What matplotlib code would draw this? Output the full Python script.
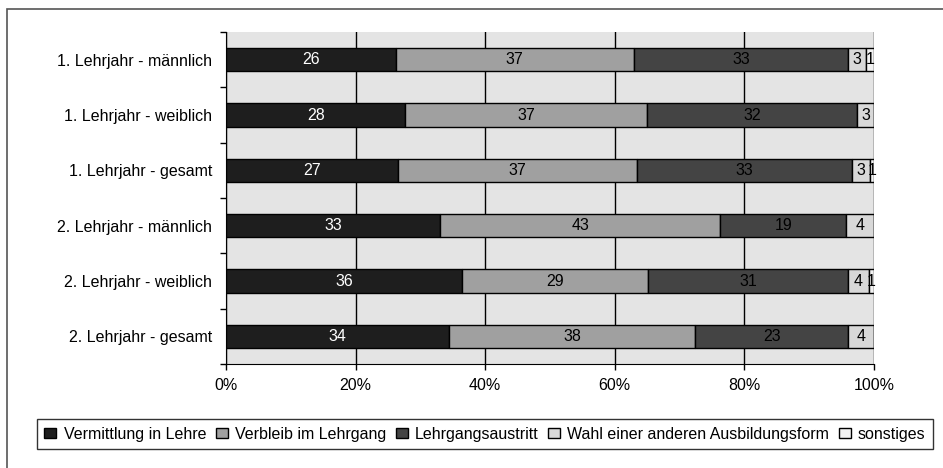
import numpy as np
import matplotlib
matplotlib.use("Agg")
import matplotlib.pyplot as plt
from matplotlib.patches import Rectangle

plt.rcParams["font.family"] = ["Liberation Sans", "DejaVu Sans"]

categories = [
    "1. Lehrjahr - männlich",
    "1. Lehrjahr - weiblich",
    "1. Lehrjahr - gesamt",
    "2. Lehrjahr - männlich",
    "2. Lehrjahr - weiblich",
    "2. Lehrjahr - gesamt",
]
series_names = [
    "Vermittlung in Lehre",
    "Verbleib im Lehrgang",
    "Lehrgangsaustritt",
    "Wahl einer anderen Ausbildungsform",
    "sonstiges",
]
vermittlung = [26.2, 27.7, 26.5, 33.0, 36.4, 34.4]
verbleib = [36.7, 37.2, 37.0, 43.3, 28.8, 38.0]
austritt = [33.1, 32.5, 33.1, 19.4, 30.8, 23.6]
wahl = [2.8, 2.6, 2.8, 4.3, 3.2, 4.0]
sonstiges = [1.2, 0.0, 0.6, 0.0, 0.8, 0.0]
# Beschriftungen wie im Original (gerundete Werte)
labels = [
    [26, 28, 27, 33, 36, 34],
    [37, 37, 37, 43, 29, 38],
    [33, 32, 33, 19, 31, 23],
    [3, 3, 3, 4, 4, 4],
    [1, None, 1, None, 1, None],
]

colors = ["#1e1e1e", "#a0a0a0", "#444444", "#d8d8d8", "#f2f2f2"]
text_colors = ["white", "black", "black", "black", "black"]
fs = 11.5

fig = plt.figure(figsize=(9.43, 4.68), dpi=100)
ax = fig.add_axes([226 / 943, 1 - 364 / 468, (874 - 226) / 943, (364 - 32) / 468])
ax.set_facecolor("#e4e4e4")

# Rahmen um die ganze Grafik
fig.patches.append(Rectangle((7 / 943, -0.01), 1.0, 1 - 9 / 468 + 0.01,
                             transform=fig.transFigure, fill=False,
                             edgecolor="#555555", linewidth=1.2))

y = np.arange(len(categories))
data = [vermittlung, verbleib, austritt, wahl, sonstiges]
left = np.zeros(len(categories))
for i, vals in enumerate(data):
    vals = np.array(vals)
    ax.barh(y, vals, left=left, height=0.42, color=colors[i],
            edgecolor="black", linewidth=1, label=series_names[i], zorder=3)
    for j, v in enumerate(vals):
        lab = labels[i][j]
        if lab is None:
            continue
        ax.text(left[j] + v / 2, y[j], str(lab), ha="center", va="center",
                color=text_colors[i], fontsize=fs, zorder=4)
    left += vals

ax.set_xlim(0, 100)
ax.set_ylim(len(categories) - 0.5, -0.5)
ax.set_xticks([0, 20, 40, 60, 80, 100])
ax.set_xticklabels(["0%", "20%", "40%", "60%", "80%", "100%"], fontsize=fs)
ax.set_yticks(y)
ax.set_yticklabels(categories, fontsize=fs)
ax.tick_params(axis="y", length=0, pad=10)
ax.set_yticks(np.arange(-0.5, len(categories)), minor=True)
ax.tick_params(axis="y", which="minor", length=4, width=1)
ax.tick_params(axis="x", length=4, width=1, pad=6)
ax.xaxis.grid(True, color="black", linewidth=1, zorder=1)
ax.set_axisbelow(True)
ax.spines["top"].set_visible(False)
ax.spines["right"].set_visible(False)

leg = fig.legend(loc="center", bbox_to_anchor=(485 / 943, 1 - 434 / 468), ncol=5,
                 fontsize=fs, frameon=True, fancybox=False, edgecolor="black",
                 handlelength=0.75, handleheight=0.6, handletextpad=0.45,
                 columnspacing=0.6, borderpad=0.45)
leg.get_frame().set_linewidth(1)

fig.savefig("out.png", dpi=100)
